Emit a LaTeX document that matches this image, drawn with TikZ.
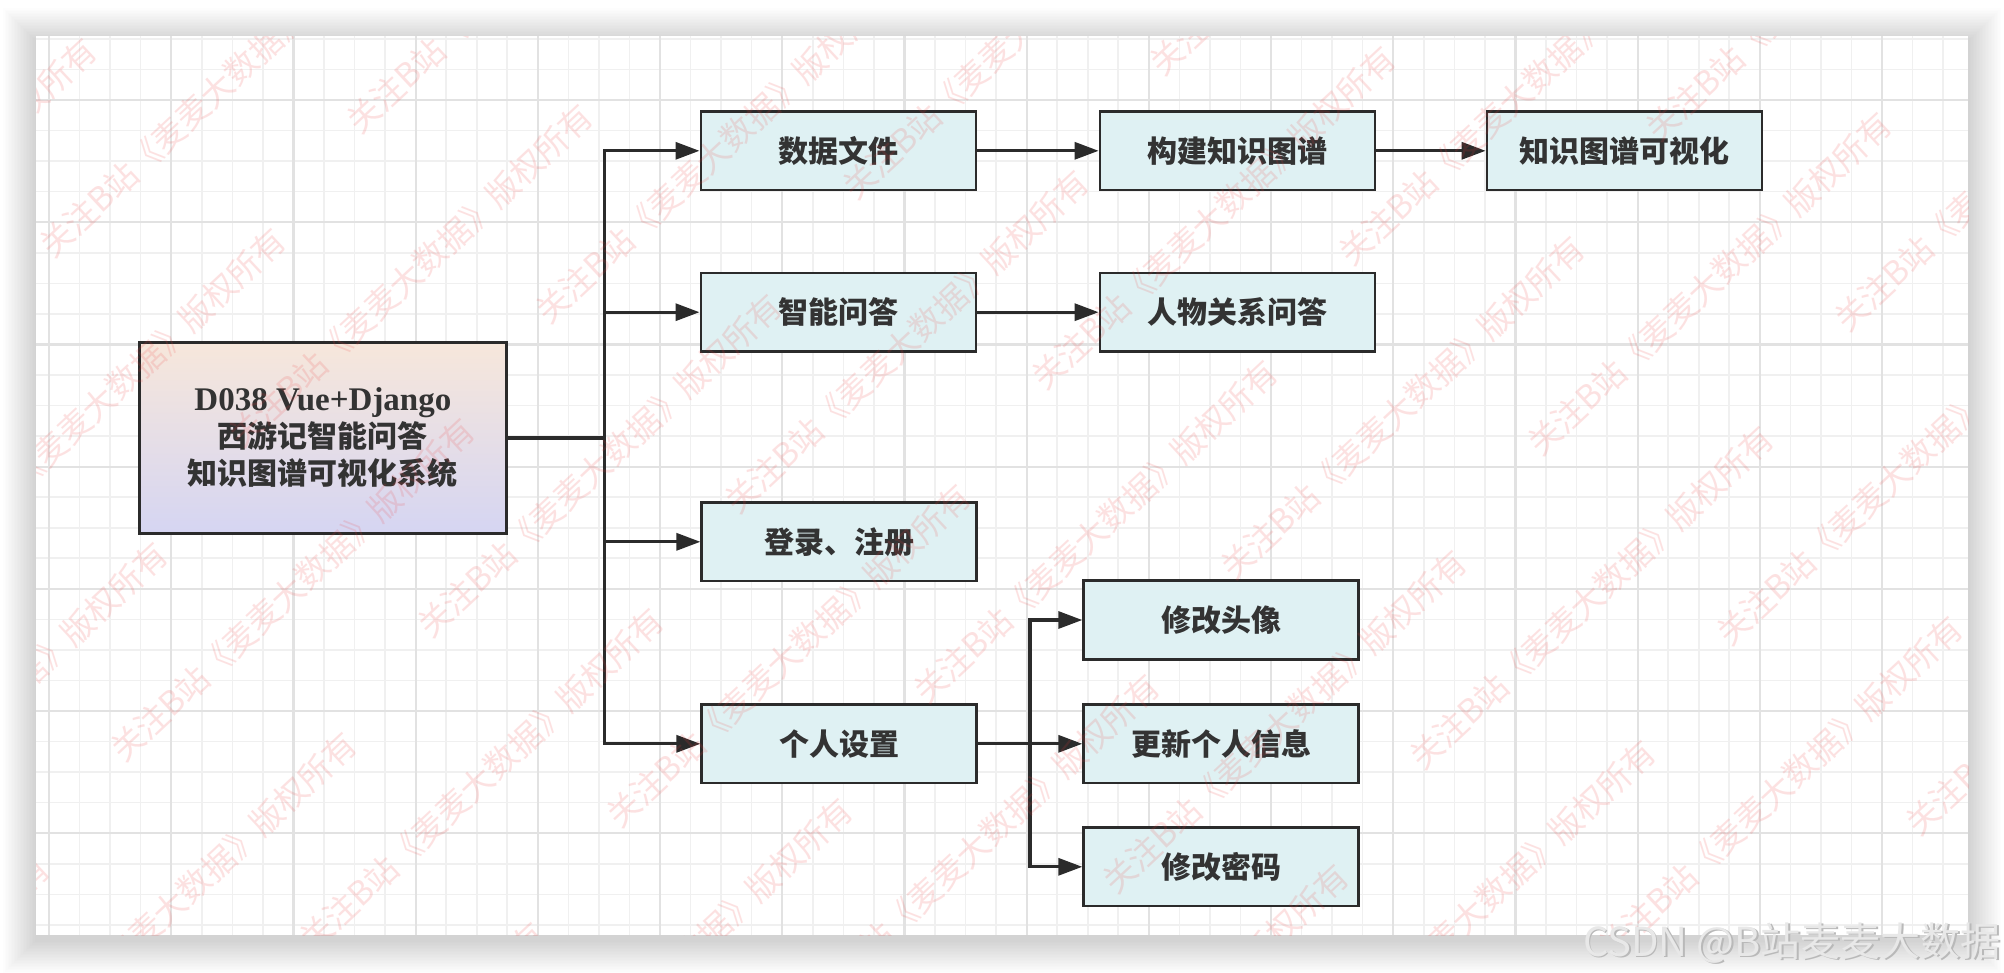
\documentclass[tikz,border=0pt]{standalone}
\usepackage{fontspec}
\setmainfont{Liberation Serif}
\newfontfamily\cjk{Noto Sans CJK SC}
\newfontfamily\latserif{Liberation Serif}
\usetikzlibrary{arrows.meta}
\definecolor{boxfill}{HTML}{DFF1F3}
\definecolor{boxline}{HTML}{2B2B2B}
\definecolor{txt}{HTML}{333333}
\definecolor{topc}{HTML}{F7E7DB}
\definecolor{botc}{HTML}{D5D5F2}
\definecolor{gridminor}{HTML}{F0F0F0}
\definecolor{gridmajor}{HTML}{E2E2E2}
\definecolor{wmred}{HTML}{F03C3C}
\begin{document}
\begin{tikzpicture}[x=1pt,y=-1pt,
  box/.style={draw=boxline, line width=2.8pt, fill=boxfill, minimum width=275pt, minimum height=78.5pt, inner sep=0pt, text=txt, font=\cjk\bfseries\fontsize{30}{36}\selectfont},
  arr/.style={draw=boxline, line width=3.2pt, -{Triangle[length=24pt,width=17pt]}},
  minorline/.style={draw=gridminor, line width=1.6pt},
  majorline/.style={draw=gridmajor, line width=2.2pt},
  wm/.style={text=wmred, text opacity=0.15, inner sep=0pt, rotate=43, anchor=base west, font=\cjk\fontsize{33}{33}\selectfont}
]
\useasboundingbox (0,0) rectangle (2004,972);
\fill[white] (0,0) rectangle (2004,972);
% canvas shadow
\foreach \i in {1,...,22}
  \fill[black, opacity=0.0065] ({36-1.5*\i},{36-1.5*\i+5}) rectangle ({1968+1.5*\i},{935+1.5*\i+5});
\fill[white] (36,36) rectangle (1968,935);
% grid
\begin{scope}
\clip (36,36) rectangle (1968,935);
\foreach \i in {0,...,64} \draw[minorline] ({18.45+30.55*\i},36) -- ++(0,899);
\foreach \i in {0,...,29} \draw[minorline] (36,{38.9+30.55*\i}) -- ++(1932,0);
\foreach \i in {0,...,15} \draw[majorline] ({49+122.2*\i},36) -- ++(0,899);
\foreach \i in {0,...,6} \draw[majorline] (36,{100+122.2*\i}) -- ++(1932,0);
\end{scope}

% nodes
\node[draw=boxline, line width=2.8pt, top color=topc, bottom color=botc, minimum width=367pt, minimum height=190.6pt, inner sep=0pt, align=center, text=txt, font=\cjk\bfseries\fontsize{30}{37}\selectfont] (main) at (322.9,438)
  {{\latserif\bfseries\fontsize{33}{37}\selectfont D038 Vue+Django}\\西游记智能问答\\知识图谱可视化系统};
\node[box] (data) at (838.4,150.8) {数据文件};
\node[box] (build) at (1237.5,150.8) {构建知识图谱};
\node[box] (vis) at (1624.5,150.8) {知识图谱可视化};
\node[box] (qa) at (838.4,312.2) {智能问答};
\node[box] (rel) at (1237.5,312.2) {人物关系问答};
\node[box] (login) at (839.3,541.8) {登录、注册};
\node[box] (personal) at (839.3,743.8) {个人设置};
\node[box] (avatar) at (1221.2,620) {修改头像};
\node[box] (info) at (1221.2,743.8) {更新个人信息};
\node[box] (pwd) at (1221.2,866.8) {修改密码};

% connectors
\coordinate (tr) at (604.4,438);
\coordinate (st) at (1030,743.8);
\draw[arr] (main.east) -- (tr) |- (data.west);
\draw[arr] (main.east) -- (tr) |- (qa.west);
\draw[arr] (main.east) -- (tr) |- (login.west);
\draw[arr] (main.east) -- (tr) |- (personal.west);
\draw[arr] (data.east) -- (build.west);
\draw[arr] (build.east) -- (vis.west);
\draw[arr] (qa.east) -- (rel.west);
\draw[arr] (personal.east) -- (st) |- (avatar.west);
\draw[arr] (personal.east) -- (st) |- (info.west);
\draw[arr] (personal.east) -- (st) |- (pwd.west);

% watermarks
\begin{scope}
\clip (36,36) rectangle (1968,935);
\foreach \k in {-3,...,8}
  \foreach \m in {-2,...,5}
    \node[wm] (wm\k\m) at ({53+307*\k-118*\m},{260-124*\k+314*\m}) {关注B站《麦麦大数据》版权所有};
\end{scope}

\node[anchor=base east, inner sep=0pt, text=gray!55, font=\cjk\fontsize{40}{40}\selectfont] (csdnshadow) at (2002.5,957.5) {CSDN @B站麦麦大数据};
\node[anchor=base east, inner sep=0pt, text=white!91!black, font=\cjk\fontsize{40}{40}\selectfont] (csdn) at (2001,956) {CSDN @B站麦麦大数据};
\end{tikzpicture}
\end{document}
